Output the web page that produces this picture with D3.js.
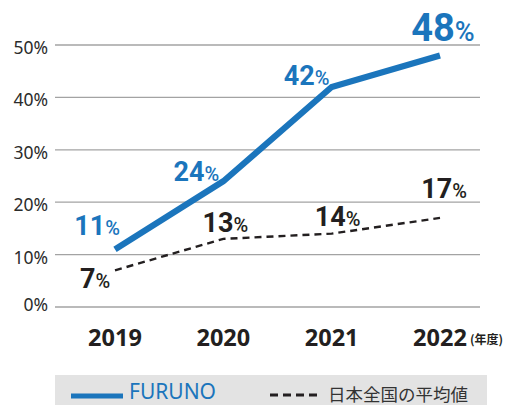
<!DOCTYPE html>
<html>
<head>
<meta charset="utf-8">
<script src="https://cdn.jsdelivr.net/npm/d3@7"></script>
<style>
  html, body { margin: 0; padding: 0; background: #fff; overflow: hidden; }
  svg { display: block; }
</style>
</head>
<body>
<svg id="chart" width="523" height="405"></svg>
<script>
var years = ['2019', '2020', '2021', '2022']
var furuno = [11, 24, 42, 48]
var japanAvg = [7, 13, 14, 17]
var yTicks = [0, 10, 20, 30, 40, 50]

var blue = '#1b75bc', dark = '#231f20'

var svg = d3.select('#chart')

// scales
var x = d3.scalePoint().domain(years).range([115, 440])
var y = d3.scaleLinear().domain([0, 50]).range([307, 45])

// gridlines + y labels
var grid = svg.append('g')
grid.selectAll('line')
    .data(yTicks)
    .enter()
    .append('line')
    .attr('x1', 55).attr('x2', 480)
    .attr('y1', function(d) { return y(d) })
    .attr('y2', function(d) { return y(d) })
    .attr('stroke', '#a3a3a3')
    .attr('stroke-width', 1.3)

grid.selectAll('text')
    .data(yTicks)
    .enter()
    .append('text')
    .attr('x', 48)
    .attr('y', function(d) { return y(d) + (d == 0 ? 4 : 9) })
    .attr('text-anchor', 'end')
    .attr('font-family', 'Noto Sans, sans-serif')
    .attr('font-size', 17.5)
    .attr('fill', '#2b2b2b')
    .text(function(d) { return d + '%' })

// x labels
svg.append('g').selectAll('text')
    .data(years)
    .enter()
    .append('text')
    .attr('x', function(d) { return x(d) })
    .attr('y', 346)
    .attr('text-anchor', 'middle')
    .attr('font-family', 'Noto Sans, sans-serif')
    .attr('font-weight', 700)
    .attr('font-size', 23.5)
    .attr('fill', dark)
    .text(function(d) { return d })

svg.append('text')
    .attr('x', 470).attr('y', 344)
    .attr('font-family', 'Noto Sans CJK JP, sans-serif')
    .attr('font-weight', 700)
    .attr('font-size', 12)
    .attr('fill', dark)
    .text('(年度)')

// lines
var line = d3.line()
    .x(function(d, i) { return x(years[i]) })
    .y(function(d) { return y(d) })

svg.append('path')
    .datum(japanAvg)
    .attr('d', line)
    .attr('fill', 'none')
    .attr('stroke', dark)
    .attr('stroke-width', 2.4)
    .attr('stroke-dasharray', '7,5')

svg.append('path')
    .datum(furuno)
    .attr('d', line)
    .attr('fill', 'none')
    .attr('stroke', blue)
    .attr('stroke-width', 6.2)

// value labels
var blueOff = [[-18, -14], [-27, 0], [-25, -2], [3, -14]]
var darkOff = [[-20, 18], [2, -7], [6, -8], [4, -20]]

function valueLabels(vals, offs, color, big) {
    var t = svg.append('g').selectAll('text')
        .data(vals)
        .enter()
        .append('text')
        .attr('x', function(d, i) { return x(years[i]) + offs[i][0] })
        .attr('y', function(d, i) { return y(d) + offs[i][1] })
        .attr('text-anchor', 'middle')
        .attr('font-family', 'Roboto, sans-serif')
        .attr('fill', color)
    t.append('tspan')
        .attr('font-weight', 700)
        .attr('font-size', function(d, i) { return big && i == 3 ? 38 : 27 })
        .text(function(d) { return d })
    t.append('tspan')
        .attr('font-weight', 500)
        .attr('font-size', function(d, i) { return big && i == 3 ? 27 : 20 })
        .text('%')
}
valueLabels(furuno, blueOff, blue, true)
valueLabels(japanAvg, darkOff, dark, false)

// legend
var lg = svg.append('g')
lg.append('rect')
    .attr('x', 55).attr('y', 375)
    .attr('width', 432).attr('height', 40)
    .attr('fill', '#e3e3e3')
lg.append('line')
    .attr('x1', 71).attr('x2', 123)
    .attr('y1', 396).attr('y2', 396)
    .attr('stroke', blue).attr('stroke-width', 5)
lg.append('text')
    .attr('x', 129).attr('y', 398.5)
    .attr('font-family', 'Noto Sans, sans-serif')
    .attr('font-size', 21)
    .attr('fill', blue)
    .text('FURUNO')
lg.append('line')
    .attr('x1', 270).attr('x2', 318)
    .attr('y1', 395).attr('y2', 395)
    .attr('stroke', dark).attr('stroke-width', 3)
    .attr('stroke-dasharray', '8,5')
lg.append('text')
    .attr('x', 328).attr('y', 401)
    .attr('font-family', 'Noto Sans CJK JP, sans-serif')
    .attr('font-size', 17.5)
    .attr('fill', '#333')
    .text('日本全国の平均値')
</script>
</body>
</html>
